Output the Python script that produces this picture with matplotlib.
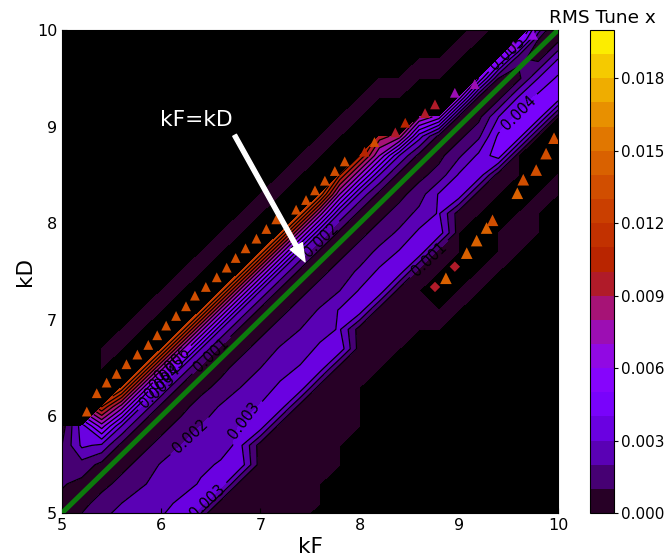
import numpy as np
from matplotlib import pyplot as plt

n = np.nan

kF = [5.0, 5.2, 5.4, 5.6, 5.8, 6.0, 6.2, 6.4, 6.6, 6.8, 7.0, 7.2, 7.4, 7.6, 7.8, 8.0, 8.2, 8.4, 8.6, 8.8, 9.0, 9.2, 9.4, 9.6, 9.8, 10.0]
kD = [4.9, 5.1, 5.3, 5.5, 5.7, 5.9, 6.1, 6.3, 6.5, 6.7, 6.9, 7.1, 7.3, 7.5, 7.7, 7.9, 8.1, 8.3, 8.5, 8.7, 8.9, 9.1, 9.3, 9.5, 9.7, 9.9, 10.1]

# RMS tune, units of 1e-4, one row per kD, nan where the scan has no result
rms_rows = [
    [7, 13, 20, 23, 27, 31, 36, 5, 5, 5, 5, 5, 5] + [n] * 13,
    [7, 7, 14, 20, 24, 27, 32, 36, 5, 5, 5, 5, 5, 5] + [n] * 12,
    [11, 7, 7, 13, 19, 23, 26, 31, 37, 5, 5, 5, 5, 5] + [n] * 12,
    [12, 16, 7, 7, 13, 21, 23, 28, 31, 36, 5, 5, 5, 5, 5] + [n] * 11,
    [10, 32, 28, 7, 7, 13, 20, 24, 27, 32, 5, 5, 5, 5, 5] + [n] * 11,
    [5, 35, 65, 30, 7, 7, 13, 20, 22, 31, 36, 5, 5, 5, 5, 5] + [n] * 10,
    [n, n, 110, 75, 30, 7, 7, 14, 21, 23, 31, 36, 5, 5, 5, 5] + [n] * 10,
    [n, 4, n, 128, 75, 30, 7, 7, 13, 20, 25, 32, 37, 5, 5, 5] + [n] * 10,
    [n, n, 4, n, 128, 75, 30, 7, 7, 14, 20, 26, 31, 36, 5, 5, 5] + [n] * 9,
    [n, n, 3, 4, n, 128, 75, 30, 7, 7, 14, 21, 25, 32, 37, 5, 5, 5] + [n] * 8,
    [n, n, n, 3, 4, n, 128, 75, 30, 7, 7, 14, 20, 26, 31, 5, 5, 5, 5, 5] + [n] * 6,
    [n] * 4 + [3, 4, n, 128, 75, 30, 7, 7, 14, 21, 31, 36, 5, 5, 5, 5, 5] + [n] * 5,
    [n] * 5 + [3, 4, n, 128, 75, 30, 7, 7, 14, 20, 31, 37, 5, 5, n, 5, 5] + [n] * 4,
    [n] * 6 + [3, 4, n, 128, 75, 30, 7, 7, 14, 22, 32, 36, 5, 5, n, 5, 5] + [n] * 3,
    [n] * 7 + [3, 4, n, 128, 75, 30, 7, 7, 14, 23, 31, 37, 5, 5, n, 5, 5] + [n] * 2,
    [n] * 8 + [3, 4, n, 128, 75, 30, 7, 7, 14, 22, 32, 36, 5, n, 5, 5, 5] + [n],
    [n] * 9 + [3, 4, n, 128, 75, 28, 7, 7, 14, 23, 31, 5, 5, n, 5, 5] + [n],
    [n] * 10 + [3, 4, n, 128, 70, 28, 7, 7, 15, 31, 37, 5, 5, n, 5, 5],
    [n] * 11 + [3, 4, n, 110, 70, 30, 7, 7, 14, 31, 37, 5, 5, n, 5],
    [n] * 12 + [3, 4, n, 110, 70, 30, 7, 7, 18, 32, 46, 5, n, n],
    [n] * 13 + [3, 4, n, 95, 85, 35, 7, 7, 18, 42, 46, 5, n],
    [n] * 14 + [3, 4, n, n, 80, 65, 8, 7, 30, 42, 46, 5],
    [n] * 15 + [3, 4, 4, n, n, 65, 8, 7, 31, 43, 47],
    [n] * 16 + [3, 3, 4, 4, n, 60, 10, 7, 30, 42],
    [n] * 18 + [3, 3, 4, n, 55, 12, 7, 30],
    [n] * 20 + [3, 4, n, 60, 10, 7],
    [n] * 21 + [3, 4, n, 40, 6],
]

# isolated resonance points along the upper edge
peak_kF = [5.25, 5.35, 5.45, 5.55, 5.65, 5.76, 5.87, 5.96, 6.05, 6.15, 6.25, 6.34, 6.45, 6.56, 6.66, 6.75, 6.85, 6.96, 7.06, 7.16, 7.36, 7.46, 7.55, 7.65, 7.75, 7.85, 8.05, 8.15, 8.36, 8.46, 8.66, 8.76, 8.96, 9.16, 9.55, 9.75]
peak_kD = [6.05, 6.24, 6.35, 6.44, 6.54, 6.64, 6.74, 6.84, 6.94, 7.04, 7.14, 7.25, 7.34, 7.44, 7.54, 7.64, 7.74, 7.84, 7.94, 8.04, 8.14, 8.24, 8.34, 8.44, 8.54, 8.64, 8.74, 8.84, 8.94, 9.04, 9.14, 9.23, 9.35, 9.44, 9.84, 9.95]
peak_rms = [0.0135] * 26 + [0.0105, 0.0135, 0.0095, 0.0105, 0.0095, 0.0095, 0.0075, 0.0075, 0.0065, 0.0065]

# the broken streak below the diagonal
streak_kF = [8.87, 9.08, 9.18, 9.28, 9.34, 9.59, 9.65, 9.78, 9.88, 9.96]
streak_kD = [7.43, 7.69, 7.82, 7.95, 8.03, 8.31, 8.45, 8.55, 8.72, 8.88]
streak_rms = [0.0145, 0.0145, 0.0145, 0.0145, 0.0135, 0.0145, 0.0135, 0.0135, 0.0135, 0.0135]
spot_kF = [8.76, 8.96]
spot_kD = [7.34, 7.55]
spot_rms = [0.0095, 0.0095]

label_kF = [6.3, 6.83, 6.5, 7.6, 6.4, 9.6, 8.7, 9.5, 5.95, 6.0, 6.05, 6.1]
label_kD = [5.78, 5.96, 6.64, 7.83, 5.2, 9.14, 7.63, 9.75, 6.27, 6.36, 6.46, 6.55]

levels = np.arange(0, 0.0201, 0.001)
labelled_levels = [0.001, 0.002, 0.003, 0.004, 0.005, 0.006]
other_levels = np.arange(0.007, 0.0201, 0.001)
rms = np.array(rms_rows) * 1e-4

fig = plt.figure(figsize=(6.66, 5.6), dpi=100)
ax = fig.add_axes([62 / 666, 1 - 513 / 560, 496 / 666, 483 / 560])
cax = fig.add_axes([590 / 666, 1 - 513 / 560, 24 / 666, 483 / 560])
ax.set_facecolor('black')

cf = ax.contourf(kF, kD, rms, levels=levels, cmap='gnuplot', vmin=0, vmax=0.02)
ax.contour(kF, kD, rms, levels=other_levels, colors='black', linewidths=0.9)
cs = ax.contour(kF, kD, rms, levels=labelled_levels, colors='black', linewidths=0.9)
ax.clabel(cs, fmt='%.3f', fontsize=10.5, manual=list(zip(label_kF, label_kD)))

ax.scatter(peak_kF, peak_kD, c=peak_rms, cmap='gnuplot', vmin=0, vmax=0.02, s=50, marker='^', linewidths=0, zorder=3)
ax.scatter(streak_kF, streak_kD, c=streak_rms, cmap='gnuplot', vmin=0, vmax=0.02, s=70, marker='^', linewidths=0, zorder=3)
ax.scatter(spot_kF, spot_kD, c=spot_rms, cmap='gnuplot', vmin=0, vmax=0.02, s=28, marker='D', linewidths=0, zorder=3)

ax.plot([5, 10], [5, 10], color='#0c7a0c', linewidth=3.6, zorder=4)
ax.annotate('', xy=(7.45, 7.6), xytext=(6.74, 8.91), zorder=5,
            arrowprops=dict(facecolor='white', edgecolor='white', width=3, headwidth=10, headlength=13, shrink=0))
ax.text(5.99, 9.07, 'kF=kD', color='white', fontsize=15.7, va='center', zorder=5)

ax.set_xlim(5, 10)
ax.set_ylim(5, 10)
ax.set_xticks([5, 6, 7, 8, 9, 10])
ax.set_yticks([5, 6, 7, 8, 9, 10])
ax.tick_params(direction='in', labelsize=11.5)
ax.set_xlabel('kF', fontsize=15.5, labelpad=3)
ax.set_ylabel('kD', fontsize=15.5, labelpad=1)

cb = fig.colorbar(cf, cax=cax, ticks=[0, 0.003, 0.006, 0.009, 0.012, 0.015, 0.018], format='%.3f')
cb.ax.tick_params(labelsize=11, length=3, pad=2)
cax.set_title('RMS Tune x', fontsize=13.3, pad=5)

plt.savefig('out.png', dpi=100)
